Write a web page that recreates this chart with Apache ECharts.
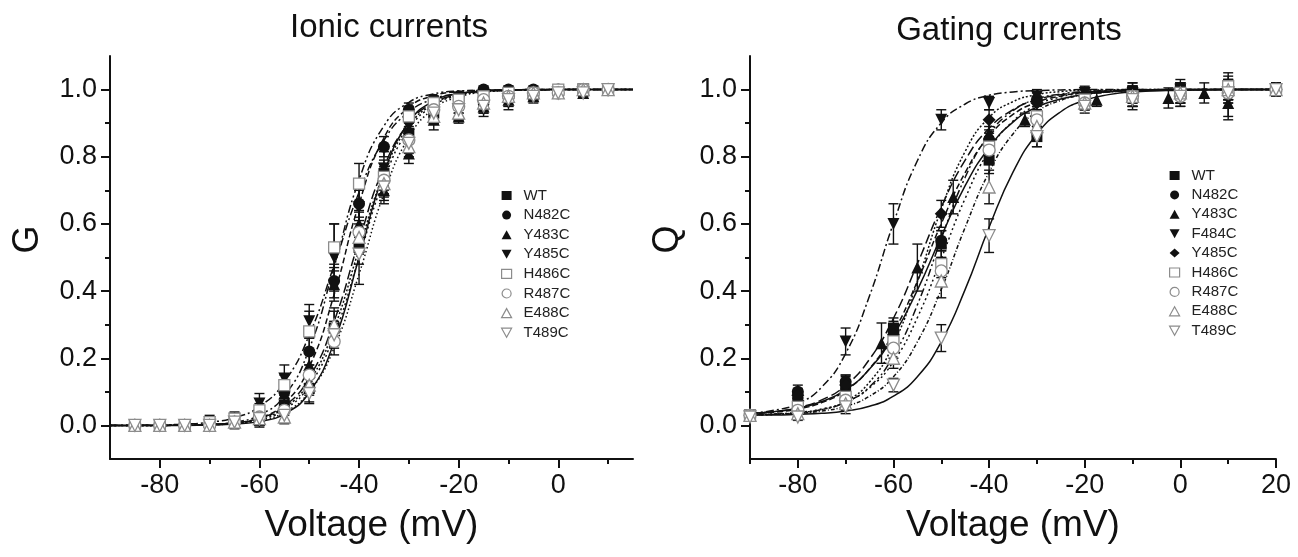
<!DOCTYPE html>
<html><head><meta charset="utf-8">
<script src="https://cdn.jsdelivr.net/npm/echarts@6/dist/echarts.min.js"></script>
<style>html,body{margin:0;padding:0;background:#fff}#c{width:1298px;height:557px}</style>
</head><body><div id="c"></div>
<script>
// ---------- Ionic currents (left panel) ----------
const ionicNames = ['WT','N482C','Y483C','Y485C','H486C','R487C','E488C','T489C'];
const vIonic = [-85,-80,-75,-70,-65,-60,-55,-50,-45,-40,-35,-30,-25,-20,-15,-10,-5,0,5,10];
const gWT    = [0.00,0.00,0.00,0.01,0.01,0.015,0.06,0.11,0.29,0.53,0.75,0.87,0.93,0.96,0.97,0.99,0.99,1.00,1.00,1.00];
const gN482C = [0.00,0.00,0.00,0.00,0.01,0.035,0.10,0.22,0.43,0.66,0.83,0.94,0.97,0.98,1.00,1.00,1.00,1.00,1.00,1.00];
const gY483C = [0.00,0.00,0.00,0.01,0.01,0.03,0.095,0.18,0.42,0.60,0.70,0.81,0.91,0.92,0.95,0.97,0.98,0.99,0.99,1.00];
const gY485C = [0.00,0.00,0.00,0.01,0.02,0.065,0.14,0.31,0.50,0.65,0.765,0.89,0.95,0.95,0.94,0.96,0.98,0.99,1.00,1.00];
const gH486C = [0.00,0.00,0.00,0.01,0.02,0.045,0.12,0.28,0.53,0.72,0.74,0.92,0.96,0.97,0.98,0.99,0.99,1.00,1.00,1.00];
const gR487C = [0.00,0.00,0.00,0.00,0.01,0.025,0.045,0.15,0.25,0.575,0.73,0.85,0.94,0.95,0.97,0.98,0.99,0.99,1.00,1.00];
const gE488C = [0.00,0.00,0.00,0.00,0.01,0.02,0.025,0.12,0.30,0.56,0.72,0.83,0.92,0.93,0.96,0.98,0.99,0.99,1.00,1.00];
const gT489C = [0.00,0.00,0.00,0.00,0.01,0.02,0.03,0.095,0.27,0.51,0.71,0.84,0.93,0.94,0.95,0.97,0.98,0.99,0.99,1.00];
const eWT_i    = [0.01,0.01,0.01,0.01,0.01,0.02,0.03,0.04,0.05,0.05,0.04,0.03,0.02,0.02,0.02,0.02,0.01,0.01,0.01,0.01];
const eN482C_i = [0.01,0.01,0.01,0.01,0.01,0.02,0.03,0.04,0.05,0.04,0.03,0.02,0.01,0.01,0.01,0.01,0.01,0.01,0.01,0.01];
const eY483C_i = [0.01,0.01,0.01,0.01,0.02,0.02,0.04,0.04,0.05,0.04,0.04,0.03,0.03,0.02,0.02,0.02,0.01,0.01,0.01,0.01];
const eY485C_i = [0.01,0.01,0.01,0.02,0.02,0.03,0.04,0.05,0.10,0.07,0.05,0.03,0.03,0.02,0.02,0.02,0.02,0.01,0.01,0.01];
const eH486C_i = [0.01,0.01,0.01,0.01,0.01,0.02,0.03,0.06,0.07,0.06,0.04,0.03,0.02,0.02,0.02,0.01,0.01,0.01,0.01,0.01];
const eR487C_i = [0.01,0.01,0.01,0.01,0.01,0.02,0.03,0.03,0.04,0.06,0.04,0.03,0.02,0.02,0.02,0.01,0.01,0.01,0.01,0.01];
const eE488C_i = [0.01,0.01,0.01,0.01,0.01,0.02,0.02,0.03,0.05,0.05,0.04,0.03,0.02,0.02,0.02,0.01,0.01,0.01,0.01,0.01];
const eT489C_i = [0.01,0.01,0.01,0.01,0.01,0.02,0.02,0.03,0.04,0.09,0.04,0.03,0.03,0.03,0.02,0.02,0.01,0.01,0.01,0.01];
// fitted curves
const vFitIonic = [-90,-85,-80,-75,-70,-65,-60,-55,-50,-45,-40,-35,-30,-25,-20,-15,-10,-5,0,5,10,15];
const fWT_i    = [0,0,0,0,0.001,0.004,0.012,0.034,0.098,0.248,0.5,0.752,0.902,0.966,0.988,0.996,0.999,1,1,1,1,1];
const fN482C_i = [0,0,0,0.001,0.0025,0.0075,0.022,0.065,0.174,0.39,0.66,0.856,0.947,0.982,0.994,0.998,0.999,1,1,1,1,1];
const fY483C_i = [0,0,0.0005,0.001,0.003,0.008,0.022,0.057,0.142,0.31,0.55,0.769,0.90,0.961,0.985,0.9945,0.998,0.999,1,1,1,1];
const fY485C_i = [0.0003,0.0006,0.0016,0.004,0.0096,0.023,0.056,0.129,0.269,0.477,0.694,0.849,0.933,0.972,0.988,0.995,0.998,0.999,1,1,1,1];
const fH486C_i = [0,0,0,0.001,0.0034,0.010,0.031,0.088,0.228,0.472,0.731,0.892,0.962,0.987,0.996,0.998,0.999,1,1,1,1,1];
const fR487C_i = [0,0,0,0.001,0.0027,0.0074,0.02,0.052,0.13,0.289,0.525,0.75,0.891,0.957,0.984,0.994,0.998,0.999,1,1,1,1];
const fE488C_i = [0,0,0,0.001,0.0025,0.0067,0.018,0.047,0.119,0.269,0.5,0.731,0.881,0.953,0.982,0.993,0.9975,0.999,1,1,1,1];
const fT489C_i = [0,0,0,0.0007,0.002,0.0055,0.015,0.039,0.10,0.231,0.45,0.69,0.858,0.943,0.978,0.992,0.997,0.999,1,1,1,1];

// ---------- Gating currents (right panel) ----------
const gatingNames = ['WT','N482C','Y483C','F484C','Y485C','H486C','R487C','E488C','T489C'];
const vGating = [-90,-80,-70,-60,-50,-40,-30,-20,-10,0,10,20];
const vGatingY483C = [-90,-80,-70,-62.5,-55,-47.5,-40,-32.5,-17.5,-2.5,5,10];
const qWT    = [0.03,0.085,0.115,0.29,0.54,0.79,0.86,0.97,0.99,1.00,1.01,1.00];
const qN482C = [0.03,0.10,0.13,0.28,0.55,0.85,0.97,0.98,0.98,0.99,1.00,1.00];
const qY483C = [0.03,0.07,0.11,0.245,0.47,0.68,0.87,0.91,0.97,0.975,0.99,0.96];
const qF484C = [0.03,0.065,0.25,0.60,0.91,0.96,0.98,0.99,0.99,1.00,0.97,1.00];
const qY485C = [0.03,0.09,0.12,0.27,0.63,0.91,0.96,0.98,0.99,1.00,1.00,1.00];
const qH486C = [0.03,0.055,0.085,0.25,0.48,0.83,0.92,0.97,0.98,0.99,1.01,1.00];
const qR487C = [0.03,0.045,0.075,0.23,0.46,0.82,0.91,0.96,0.98,0.98,0.99,1.00];
const qE488C = [0.03,0.035,0.065,0.20,0.43,0.71,0.89,0.96,0.98,0.99,1.00,1.00];
const qT489C = [0.025,0.025,0.055,0.12,0.26,0.565,0.86,0.95,0.97,0.98,0.99,1.00];
const eWT_g    = [0.01,0.02,0.03,0.03,0.04,0.04,0.03,0.03,0.03,0.03,0.04,0.02];
const eN482C_g = [0.01,0.02,0.02,0.03,0.03,0.04,0.02,0.02,0.03,0.03,0.03,0.02];
const eY483C_g = [0.01,0.02,0.02,0.06,0.07,0.05,0.04,0.02,0.02,0.03,0.03,0.05];
const eF484C_g = [0.01,0.02,0.04,0.06,0.03,0.02,0.02,0.02,0.02,0.02,0.05,0.02];
const eY485C_g = [0.01,0.02,0.03,0.03,0.04,0.03,0.02,0.02,0.03,0.02,0.03,0.02];
const eH486C_g = [0.01,0.02,0.02,0.03,0.04,0.04,0.02,0.02,0.03,0.03,0.03,0.02];
const eR487C_g = [0.01,0.02,0.02,0.03,0.04,0.04,0.02,0.02,0.03,0.03,0.03,0.02];
const eE488C_g = [0.01,0.01,0.02,0.03,0.05,0.05,0.03,0.02,0.03,0.03,0.03,0.02];
const eT489C_g = [0.01,0.01,0.02,0.02,0.04,0.05,0.03,0.02,0.03,0.03,0.03,0.02];
const vFitGating = [-90,-85,-80,-75,-70,-65,-60,-55,-50,-45,-40,-35,-30,-25,-20,-15,-10,0,10,20];
const fWT_g    = [0.036,0.041,0.051,0.071,0.106,0.168,0.267,0.403,0.563,0.714,0.827,0.903,0.948,0.972,0.986,0.993,0.996,0.999,1,1];
const fN482C_g = [0.035,0.039,0.049,0.068,0.104,0.169,0.277,0.429,0.601,0.753,0.861,0.926,0.962,0.981,0.991,0.995,0.998,1,1,1];
const fY483C_g = [0.036,0.041,0.053,0.076,0.119,0.197,0.319,0.481,0.650,0.790,0.885,0.940,0.970,0.985,0.992,0.996,0.998,1,1,1];
const fF484C_g = [0.036,0.045,0.065,0.114,0.214,0.386,0.602,0.788,0.901,0.957,0.983,0.993,0.997,0.999,1,1,1,1,1,1];
const fY485C_g = [0.031,0.033,0.037,0.047,0.072,0.129,0.242,0.428,0.644,0.816,0.917,0.964,0.985,0.994,0.998,0.999,1,1,1,1];
const fH486C_g = [0.031,0.033,0.038,0.047,0.069,0.115,0.207,0.359,0.556,0.739,0.866,0.937,0.972,0.987,0.994,0.997,0.999,1,1,1];
const fR487C_g = [0.032,0.034,0.039,0.049,0.070,0.112,0.190,0.321,0.497,0.676,0.818,0.906,0.954,0.978,0.990,0.995,0.998,1,1,1];
const fE488C_g = [0.031,0.033,0.036,0.043,0.057,0.087,0.145,0.249,0.405,0.590,0.754,0.868,0.934,0.968,0.985,0.993,0.997,0.9995,1,1];
const fT489C_g = [0.031,0.031,0.033,0.036,0.043,0.057,0.087,0.145,0.249,0.405,0.590,0.754,0.868,0.934,0.968,0.985,0.993,0.998,1,1];

// tick labels
const yTicks = [0,0.2,0.4,0.6,0.8,1.0];
const yMinorTicks = [0.1,0.3,0.5,0.7,0.9];
const xTicksIonic = [-80,-60,-40,-20,0];
const xMinorIonic = [-70,-50,-30,-10,10];
const xTicksGating = [-80,-60,-40,-20,0,20];
const xMinorGating = [-90,-70,-50,-30,-10,10];

// ---------- styling ----------
const DOWN = 'path://M0,0L10,0L5,9Z';
const symbolFor = {WT:'rect',N482C:'circle',Y483C:'triangle',F484C:DOWN,H486C:'rect',R487C:'circle',E488C:'triangle',T489C:DOWN};
const openSet = {H486C:1,R487C:1,E488C:1,T489C:1};
const sizeFor = {rect:11,circle:12,triangle:12,diamond:13};
sizeFor[DOWN]=12;
const dashIonic = {WT:'solid',N482C:[6,3],Y483C:[10,4],Y485C:[8,3,2,3],H486C:[8,3,2,3,2,3],R487C:[2,2],E488C:[2,3],T489C:[1.5,2.5]};
const dashGating = {WT:'solid',N482C:[6,3],Y483C:[10,4],F484C:[8,3,2,3],Y485C:[2,2],H486C:[8,3,2,3,2,3],R487C:[2,3],E488C:[4,2,1,2],T489C:'solid'};

const ionicData = {WT:[gWT,eWT_i,fWT_i],N482C:[gN482C,eN482C_i,fN482C_i],Y483C:[gY483C,eY483C_i,fY483C_i],Y485C:[gY485C,eY485C_i,fY485C_i],H486C:[gH486C,eH486C_i,fH486C_i],R487C:[gR487C,eR487C_i,fR487C_i],E488C:[gE488C,eE488C_i,fE488C_i],T489C:[gT489C,eT489C_i,fT489C_i]};
const gatingData = {WT:[qWT,eWT_g,fWT_g],N482C:[qN482C,eN482C_g,fN482C_g],Y483C:[qY483C,eY483C_g,fY483C_g],F484C:[qF484C,eF484C_g,fF484C_g],Y485C:[qY485C,eY485C_g,fY485C_g],H486C:[qH486C,eH486C_g,fH486C_g],R487C:[qR487C,eR487C_g,fR487C_g],E488C:[qE488C,eE488C_g,fE488C_g],T489C:[qT489C,eT489C_g,fT489C_g]};

function renderErr(params, api){
  const x = api.value(0), y = api.value(1), e = api.value(2);
  const t = api.coord([x, y + e]), b = api.coord([x, y - e]);
  const hw = 5, st = {stroke:'#111', lineWidth:1.4};
  return {type:'group', children:[
    {type:'line', shape:{x1:t[0],y1:t[1],x2:b[0],y2:b[1]}, style:st},
    {type:'line', shape:{x1:t[0]-hw,y1:t[1],x2:t[0]+hw,y2:t[1]}, style:st},
    {type:'line', shape:{x1:b[0]-hw,y1:b[1],x2:b[0]+hw,y2:b[1]}, style:st}
  ]};
}

const series = [];
function addPanel(names, dataMap, vData, vFit, dashMap, axisIdx, symOverride, vOverride){
  names.forEach(function(n){
    const d = dataMap[n];
    const vs = (vOverride && vOverride[n]) || vData;
    series.push({type:'line', name:'fit '+n+' '+axisIdx, xAxisIndex:axisIdx, yAxisIndex:axisIdx, z:2,
      data: vFit.map(function(v,i){return [v, d[2][i]];}), smooth:0.5,
      showSymbol:false, symbol:'none', silent:true,
      lineStyle:{color:'#111', width:1.5, type:dashMap[n]}});
    series.push({type:'custom', name:'err '+n+' '+axisIdx, xAxisIndex:axisIdx, yAxisIndex:axisIdx, z:3,
      renderItem:renderErr, encode:{x:0,y:1}, silent:true,
      data: vs.map(function(v,i){return [v, d[0][i], d[1][i]];})});
    const sym = (symOverride && symOverride[n]) || symbolFor[n];
    const open = !!openSet[n];
    series.push({type:'scatter', name:n, xAxisIndex:axisIdx, yAxisIndex:axisIdx, z:4,
      symbol:sym, symbolSize:sizeFor[sym]||11,
      itemStyle: open ? {color:'#fff', borderColor:'#8c8c8c', borderWidth:1.3, opacity:1} : {color:'#111', opacity:1},
      data: vs.map(function(v,i){return [v, d[0][i]];})});
  });
}
addPanel(ionicNames, ionicData, vIonic, vFitIonic, dashIonic, 0, {Y485C:DOWN});
addPanel(gatingNames, gatingData, vGating, vFitGating, dashGating, 2, {Y485C:'diamond'}, {Y483C:vGatingY483C});

const txt = '#111';
const fontFam = '"Liberation Sans", Arial, Helvetica, sans-serif';
function mainX(grid, min, max, ticks){
  return {type:'value', gridIndex:grid, position:'bottom', min:min, max:max, name:'Voltage (mV)', nameLocation:'middle', nameGap:48,
    nameTextStyle:{fontSize:37, color:txt, fontFamily:fontFam},
    axisLine:{onZero:false, lineStyle:{color:'#111', width:2}},
    axisTick:{show:true, inside:false, length:9, customValues:ticks, lineStyle:{color:'#111', width:2}},
    axisLabel:{customValues:ticks, fontSize:27, margin:13, color:txt, fontFamily:fontFam},
    splitLine:{show:false}};
}
function minorX(grid, min, max, ticks){
  return {type:'value', gridIndex:grid, position:'bottom', offset:0, min:min, max:max,
    axisLine:{show:false, onZero:false},
    axisTick:{show:true, inside:false, length:5, customValues:ticks, lineStyle:{color:'#111', width:2}},
    axisLabel:{show:false}, splitLine:{show:false}};
}
function mainY(grid, name){
  return {type:'value', gridIndex:grid, position:'left', min:-0.1, max:1.1, name:name, nameLocation:'middle', nameGap:64, nameRotate:90,
    nameTextStyle:{fontSize:36, color:txt, fontFamily:fontFam, padding:[0,0,0,36]},
    axisLine:{onZero:false, lineStyle:{color:'#111', width:2}},
    axisTick:{show:true, inside:false, length:9, customValues:yTicks, lineStyle:{color:'#111', width:2}},
    axisLabel:{customValues:yTicks, fontSize:27, margin:13, color:txt, fontFamily:fontFam, formatter:function(v){return v.toFixed(1);}},
    splitLine:{show:false}};
}
function minorY(grid){
  return {type:'value', gridIndex:grid, position:'left', offset:0, min:-0.1, max:1.1,
    axisLine:{show:false, onZero:false},
    axisTick:{show:true, inside:false, length:5, customValues:yMinorTicks, lineStyle:{color:'#111', width:2}},
    axisLabel:{show:false}, splitLine:{show:false}};
}

function legendFor(names, left, top, gap, symOverride){
  return {orient:'vertical', left:left, top:top, itemWidth:10, itemHeight:9, itemGap:gap,
    textStyle:{fontSize:15, color:'#222', fontFamily:fontFam, padding:[0,0,0,7]},
    data: names.map(function(n){
      const sym = (symOverride && symOverride[n]) || symbolFor[n];
      const o = {name:n, icon:sym};
      if (openSet[n]) o.itemStyle = {color:'#fff', borderColor:'#8c8c8c', borderWidth:1.2};
      else o.itemStyle = {color:'#111', borderWidth:0};
      return o;
    })};
}

const option = {
  backgroundColor:'#fff',
  animation:false,
  title:[
    {text:'Ionic currents', left:384, top:6, textAlign:'center', textStyle:{fontSize:33, fontWeight:'normal', color:txt, fontFamily:fontFam}},
    {text:'Gating currents', left:1004, top:9, textAlign:'center', textStyle:{fontSize:33, fontWeight:'normal', color:txt, fontFamily:fontFam}}
  ],
  legend:[
    legendFor(ionicNames, 496, 183, 4.6, {Y485C:DOWN}),
    legendFor(gatingNames, 1164, 163, 4.4, {Y485C:'diamond'})
  ],
  grid:[
    {left:110, right:665, top:56, bottom:98},
    {left:750, right:22, top:56, bottom:98}
  ],
  xAxis:[mainX(0,-90,15,xTicksIonic), minorX(0,-90,15,xMinorIonic), mainX(1,-90,20,xTicksGating), minorX(1,-90,20,xMinorGating)],
  yAxis:[mainY(0,'G'), minorY(0), mainY(1,'Q'), minorY(1)],
  series: series
};
const chart = echarts.init(document.getElementById('c'), null, {renderer:'canvas'});
chart.setOption(option);
</script></body></html>
